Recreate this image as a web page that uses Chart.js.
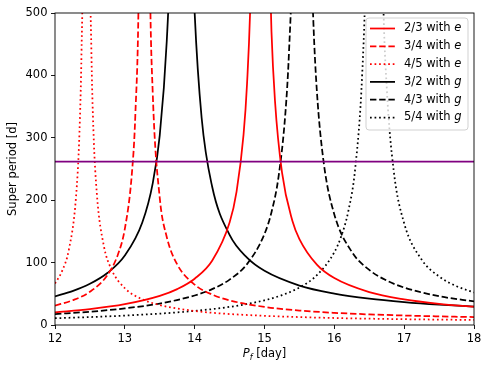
<!DOCTYPE html>
<html>
<head>
<meta charset="utf-8">
<script src="https://cdn.jsdelivr.net/npm/chart.js@4.4.0/dist/chart.umd.min.js"></script>
<style>
html,body{margin:0;padding:0;background:#fff;}
#wrap{width:490px;height:371px;position:relative;}
</style>
</head>
<body>
<div id="wrap"><canvas id="graphe"></canvas></div>
<script>
// valeurs (null = coupure a l'asymptote)
var pf23e = [12,12.5,13,13.5,13.75,14,14.25,14.5,14.6,14.7,14.75,14.8,14.85, 14.94, 15.05,15.1,15.15,15.25,15.4,15.5,15.75,16,16.5,17,17.5,18];
var sp23e = [20.3,25.5,33.4,46.7,57.5,74.2,102.9,164.1,213.9,305,386.5,526.3,821.7, null, 681.7,469.9,359.3,245,166.7,137.8,96.8,75.2,52.7,41.1,34.0,29.3];

var pf34e = [12,12.25,12.5,12.75,12.9,13,13.1,13.15,13.2,13.24, 13.28, 13.32,13.36,13.4,13.5,13.6,13.75,14,14.25,14.5,15,15.5,16,16.5,17,17.5,18];
var sp34e = [31.1,39.5,53.2,79.9,112.7,154.2,241.6,335.8,547.9,1099, null, 1105,554.3,370.6,203.7,141.1,97.1,64.6,48.8,39.5,29.0,23.2,19.5,17.0,15.2,13.8,12.7];

var pf45e = [12,12.1,12.2,12.3,12.35,12.38,12.4,12.43, 12.45, 12.47,12.5,12.52,12.55,12.6,12.7,12.8,13,13.25,13.5,14,14.5,15,15.5,16,17,18];
var sp45e = [66.4,86.1,121.5,204.2,307.5,440.3,617.3,1546, null, 1553,622.7,445.4,312.5,209.2,126.5,91.1,58.9,41.2,32.0,22.5,17.6,14.7,12.7,11.2,9.3,8.1];

var pf32g = [12,12.25,12.5,12.75,13,13.25,13.4,13.5,13.6,13.65,13.72, 13.81, 13.9,13.96,14,14.1,14.25,14.5,14.75,15,15.5,16,16.5,17,17.5,18];
var sp32g = [45.9,54.3,66.0,83.3,111.3,164.3,227.5,304.0,454.3,601.7,1093, null, 1028,628.1,499.8,331.8,221.9,144.4,107.9,86.8,63.2,50.4,42.3,36.8,32.7,29.6];

var pf43g = [12,12.5,13,13.5,14,14.25,14.5,14.75,15,15.1,15.2,15.3,15.35,15.4,15.46, 15.53, 15.6,15.66,15.7,15.75,15.85,16,16.25,16.5,16.75,17,17.5,18];
var sp43g = [17.6,21.3,26.6,34.4,47.3,57.5,72.7,97.6,145.9,180.8,236.7,340.8,435.5,602.0,1105, null, 1196,635.7,485.2,374.8,258.4,177.2,117.2,88.3,71.2,60.0,46.1,37.8];

var pf54g = [12,12.5,13,13.5,14,14.5,15,15.25,15.5,15.75,16,16.1,16.2,16.3,16.4,16.45,16.5, 16.57, 16.64,16.7,16.75,16.85,17,17.25,17.5,17.75,18];
var sp54g = [10.9,12.7,15.1,18.2,22.6,29.0,39.6,47.9,60.1,79.8,116.7,142.5,182.3,251.9,404.4,577.4,1005, null, 957.9,524.1,381.2,247.5,163.0,104.8,77.8,62.2,52.1];

var pfLigne = [12, 18];
var spLigne = [262, 262];

var etiquettes = ["2/3 with e", "3/4 with e", "4/5 with e", "3/2 with g", "4/3 with g", "5/4 with g"];
var xTicks = [12, 13, 14, 15, 16, 17, 18];
var yTicks = [0, 100, 200, 300, 400, 500];

var FONT = "'DejaVu Sans', sans-serif";
var TIRET = [6.4, 2.8];
var POINTS = [1.7, 2.85];
var EPAIS = 1.75;

function points(xs, ys){
    var out = [];
    for(var i=0;i<xs.length;i++){
        out.push({x: xs[i], y: ys[i]});
    }
    return out;
}

function courbe(label, xs, ys, couleur, dash){
    return {
        label: label,
        data: points(xs, ys),
        borderColor: couleur,
        backgroundColor: couleur,
        borderWidth: EPAIS,
        borderDash: dash,
        pointRadius: 0,
        fill: false,
        cubicInterpolationMode: 'monotone',
        spanGaps: false,
        clip: 0
    };
}

var styles = [
    ['#ff0000', []], ['#ff0000', TIRET], ['#ff0000', POINTS],
    ['#000000', []], ['#000000', TIRET], ['#000000', POINTS]
];

// cadre, legende et titres des axes
var decor = {
    id: 'decor',
    afterDraw: function(chart){
        var ctx = chart.ctx, a = chart.chartArea;
        ctx.save();
        ctx.strokeStyle = '#000';
        ctx.lineWidth = 0.9;
        ctx.setLineDash([]);
        ctx.strokeRect(a.left, a.top, a.right - a.left, a.bottom - a.top);

        // legende
        var bx = 366, by = 18, bw = 102, bh = 112, r = 3;
        ctx.beginPath();
        ctx.moveTo(bx + r, by);
        ctx.arcTo(bx + bw, by, bx + bw, by + bh, r);
        ctx.arcTo(bx + bw, by + bh, bx, by + bh, r);
        ctx.arcTo(bx, by + bh, bx, by, r);
        ctx.arcTo(bx, by, bx + bw, by, r);
        ctx.closePath();
        ctx.fillStyle = 'rgba(255,255,255,0.8)';
        ctx.fill();
        ctx.strokeStyle = '#cccccc';
        ctx.lineWidth = 0.9;
        ctx.stroke();

        for(var i=0;i<etiquettes.length;i++){
            var y = 28.5 + i * 17.8;
            ctx.strokeStyle = styles[i][0];
            ctx.lineWidth = EPAIS;
            ctx.setLineDash(styles[i][1]);
            ctx.beginPath();
            ctx.moveTo(370, y);
            ctx.lineTo(395, y);
            ctx.stroke();
            ctx.setLineDash([]);

            var txt = etiquettes[i];
            var debut = txt.slice(0, -1), fin = txt.slice(-1);
            ctx.fillStyle = '#000';
            ctx.textBaseline = 'middle';
            ctx.textAlign = 'left';
            ctx.font = '11.5px ' + FONT;
            ctx.fillText(debut, 404, y);
            var w = ctx.measureText(debut).width;
            ctx.font = 'italic 11.5px ' + FONT;
            ctx.fillText(fin, 404 + w, y);
        }

        // titre x : P_f [day]
        ctx.fillStyle = '#000';
        ctx.textBaseline = 'alphabetic';
        ctx.textAlign = 'left';
        ctx.font = 'italic 11.5px ' + FONT;
        var wP = ctx.measureText('P').width;
        ctx.font = 'italic 8px ' + FONT;
        var wf = ctx.measureText('f').width;
        ctx.font = '11.5px ' + FONT;
        var wr = ctx.measureText(' [day]').width;
        var x0 = (a.left + a.right) / 2 - (wP + wf + wr) / 2;
        var yb = 357;
        ctx.font = 'italic 11.5px ' + FONT;
        ctx.fillText('P', x0, yb);
        ctx.font = 'italic 8px ' + FONT;
        ctx.fillText('f', x0 + wP, yb + 2.5);
        ctx.font = '11.5px ' + FONT;
        ctx.fillText(' [day]', x0 + wP + wf, yb);

        // titre y
        ctx.translate(13, (a.top + a.bottom) / 2);
        ctx.rotate(-Math.PI / 2);
        ctx.textAlign = 'center';
        ctx.textBaseline = 'middle';
        ctx.fillText('Super period [d]', 0, 0);
        ctx.restore();
    }
};

var datasets = [];
datasets.push(courbe(etiquettes[0], pf23e, sp23e, '#ff0000', []));
datasets.push(courbe(etiquettes[1], pf34e, sp34e, '#ff0000', TIRET));
datasets.push(courbe(etiquettes[2], pf45e, sp45e, '#ff0000', POINTS));
datasets.push(courbe(etiquettes[3], pf32g, sp32g, '#000000', []));
datasets.push(courbe(etiquettes[4], pf43g, sp43g, '#000000', TIRET));
datasets.push(courbe(etiquettes[5], pf54g, sp54g, '#000000', POINTS));
var ligne = courbe('ligne', pfLigne, spLigne, '#800080', []);
ligne.cubicInterpolationMode = 'default';
datasets.unshift(ligne);

var ctx = document.getElementById('graphe');
var myChart = new Chart(ctx, {
    type: 'line',
    data: { datasets: datasets },
    options: {
        responsive: true,
        maintainAspectRatio: false,
        animation: false,
        events: [],
        layout: { padding: { left: 0, top: 13, right: 16, bottom: 0 } },
        plugins: { legend: { display: false }, tooltip: { enabled: false } },
        scales: {
            x: {
                type: 'linear',
                min: 12, max: 18,
                border: { display: false },
                grid: { drawOnChartArea: false, drawTicks: true, tickLength: 4, color: '#000', lineWidth: 0.9 },
                afterBuildTicks: function(scale){ scale.ticks = xTicks.map(function(v){ return {value: v}; }); },
                ticks: { color: '#000', font: { family: FONT, size: 11.5 }, padding: 3, maxRotation: 0 },
                afterFit: function(scale){ scale.height = 46; }
            },
            y: {
                type: 'linear',
                min: 0, max: 500,
                border: { display: false },
                grid: { drawOnChartArea: false, drawTicks: true, tickLength: 4, color: '#000', lineWidth: 0.9 },
                afterBuildTicks: function(scale){ scale.ticks = yTicks.map(function(v){ return {value: v}; }); },
                ticks: { color: '#000', font: { family: FONT, size: 11.5 }, padding: 3.5 },
                afterFit: function(scale){ scale.width = 55; }
            }
        }
    },
    plugins: [decor]
});
</script>
</body>
</html>
